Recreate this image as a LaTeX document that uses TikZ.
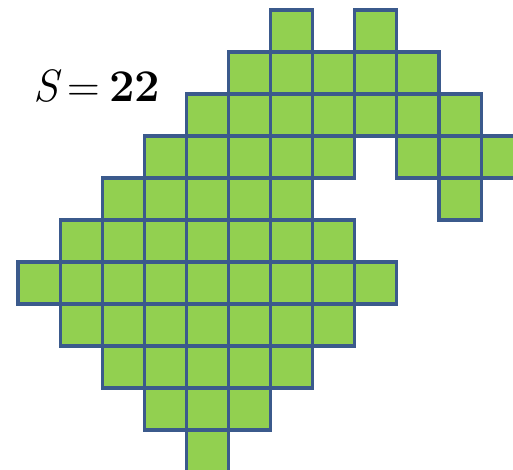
\documentclass[tikz,border=0pt]{standalone}
\usepackage{fontspec}
\definecolor{cellfill}{HTML}{92D050}
\definecolor{celledge}{HTML}{3B5A8C}
\begin{document}
\begin{tikzpicture}[x=0.75pt,y=-0.75pt,
  cell/.style={draw=celledge,fill=cellfill,line width=2.3pt,minimum width=31.575pt,minimum height=31.5pt,inner sep=0pt,anchor=north west,outer sep=0pt}]
\useasboundingbox (0,0) rectangle (513,470);
\clip (0,0) rectangle (513,470);
\foreach \r/\cols in {0/{6,8},1/{5,6,7,8,9},2/{4,5,6,7,8,9,10},3/{3,4,5,6,7,9,10,11},4/{2,3,4,5,6,10},5/{1,2,3,4,5,6,7},6/{0,1,2,3,4,5,6,7,8},7/{1,2,3,4,5,6,7},8/{2,3,4,5,6},9/{3,4,5},10/{4}}{
  \foreach \c in \cols {
    \node[cell] (cell-\r-\c) at ({18+42.1*\c},{10+42*\r}) {};
  }
}
\node[font=\fontsize{34}{40}\selectfont,inner sep=0pt] (label) at (97,86) {{\itshape S}\hspace{0.2em}=\hspace{0.2em}{\bfseries 22}};
\end{tikzpicture}
\end{document}
